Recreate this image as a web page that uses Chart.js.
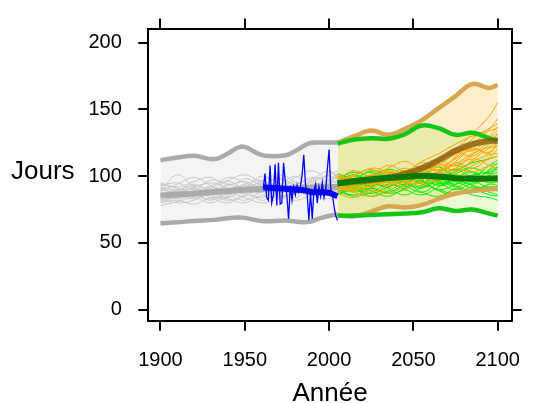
<!DOCTYPE html>
<html>
<head>
<meta charset="utf-8">
<script src="https://cdn.jsdelivr.net/npm/chart.js@4.4.0/dist/chart.umd.min.js"></script>
<style>
  html, body { margin: 0; padding: 0; background: #fff; }
  #wrap { width: 539px; height: 403px; }
</style>
</head>
<body>
<div id="wrap"><canvas id="jours" width="539" height="403"></canvas></div>
<script>
var yearTicks = [1900, 1950, 2000, 2050, 2100];
var dayTicks = [0, 50, 100, 150, 200];

// historical runs, 1900-2005
var histYears = [1900, 1910, 1920, 1930, 1940, 1950, 1960, 1970, 1980, 1990, 2000, 2005];
var histRuns = [
    [92, 90, 94, 89, 93, 96, 91, 94, 90, 97, 100, 98],
    [84, 86, 83, 88, 86, 90, 95, 88, 92, 89, 95, 100],
    [80, 82, 79, 84, 83, 80, 86, 84, 88, 93, 90, 96],
    [88, 101, 92, 87, 94, 90, 88, 97, 94, 91, 98, 102],
    [95, 92, 96, 99, 90, 94, 97, 92, 99, 104, 97, 95],
    [86, 89, 93, 90, 96, 92, 100, 95, 89, 94, 92, 90],
    [90, 87, 85, 92, 88, 98, 93, 90, 96, 88, 103, 99],
    [82, 85, 88, 84, 80, 86, 84, 90, 87, 92, 88, 94],
    [78, 81, 84, 80, 85, 82, 88, 85, 82, 86, 91, 88],
    [93, 95, 90, 97, 94, 88, 92, 99, 93, 96, 101, 104],
    [87, 83, 88, 93, 97, 101, 95, 89, 93, 99, 95, 92],
    [85, 90, 87, 83, 89, 93, 89, 93, 100, 92, 96, 100],
    [91, 88, 92, 95, 91, 87, 94, 88, 91, 95, 89, 93],
    [83, 80, 82, 87, 84, 89, 82, 86, 84, 90, 86, 89],
    [89, 94, 99, 93, 88, 91, 96, 101, 96, 90, 94, 97],
    [81, 84, 86, 82, 87, 84, 80, 83, 88, 85, 83, 87],
    [94, 91, 88, 91, 99, 95, 90, 94, 88, 93, 97, 101],
    [86, 88, 91, 86, 82, 85, 91, 87, 94, 98, 104, 99]
];
var envYears = [1900, 1910, 1920, 1932, 1940, 1946, 1950, 1957, 1962, 1974, 1980, 1988, 1995, 2005];
var histUpper = [112, 114, 115.3, 112.8, 117, 121.5, 122, 117.5, 115.3, 115.7, 118.9, 124.5, 125.2, 125.3];
var histLower = [64.8, 65.5, 66.5, 67.3, 68.5, 69, 68.8, 67, 66.2, 66.8, 66, 65.8, 68.6, 71.6];
var medYears = [1900, 1920, 1940, 1960, 1980, 2005];
var histMedian = [85.5, 87, 89, 90.5, 91, 92];

// observed series 1961-2005 and its smoothed trend
var obsStart = 1961;
var obsDays = [91, 102, 84, 82, 108, 80, 86, 109, 78, 110,
               79, 80, 110, 97, 85, 68, 93, 82, 92, 86,
               93, 88, 92, 101, 116, 94, 87, 67, 88, 68,
               89, 94, 80, 92, 85, 95, 84, 90, 106, 120,
               90, 86, 77, 70, 67];
var obsSmoothYears = [1961, 1965, 1970, 1975, 1980, 1985, 1990, 1995, 2000, 2005];
var obsSmooth = [91.7, 91.3, 91, 90.5, 90, 89.5, 88, 88, 87.5, 85];

// projections 2005-2100
var futYears = [2005, 2015, 2025, 2035, 2045, 2055, 2065, 2075, 2085, 2095, 2100];
var lowRuns = [
    [94, 98, 103, 96, 100, 106, 99, 104, 110, 113, 115],
    [90, 86, 92, 97, 93, 88, 95, 101, 96, 105, 110],
    [97, 101, 96, 92, 99, 104, 107, 100, 97, 104, 107],
    [88, 92, 89, 85, 91, 96, 90, 94, 101, 103, 105],
    [100, 96, 93, 99, 103, 97, 94, 99, 103, 98, 100],
    [92, 89, 95, 100, 95, 91, 98, 93, 89, 94, 93],
    [86, 90, 85, 89, 94, 88, 85, 91, 96, 91, 90],
    [98, 103, 99, 95, 92, 98, 103, 108, 103, 97, 98],
    [91, 94, 98, 103, 99, 94, 90, 87, 92, 88, 86],
    [95, 91, 87, 92, 97, 101, 96, 92, 86, 84, 82],
    [102, 98, 104, 100, 96, 101, 105, 99, 94, 101, 103],
    [89, 85, 88, 94, 90, 86, 92, 97, 93, 90, 89],
    [93, 97, 92, 88, 94, 99, 95, 90, 95, 99, 101],
    [99, 95, 100, 105, 101, 96, 100, 105, 100, 108, 112],
    [87, 91, 95, 91, 86, 92, 97, 94, 99, 95, 96],
    [96, 100, 95, 98, 104, 100, 93, 96, 91, 92, 92],
    [92, 88, 91, 87, 90, 95, 89, 86, 90, 86, 85],
    [97, 93, 97, 101, 96, 92, 97, 102, 106, 102, 107]
];
var highRuns = [
    [96, 100, 97, 103, 99, 105, 113, 120, 132, 145, 155],
    [92, 96, 101, 97, 104, 101, 108, 117, 124, 135, 143],
    [99, 95, 99, 104, 100, 107, 104, 115, 128, 136, 139],
    [94, 90, 95, 100, 106, 102, 110, 121, 119, 130, 137],
    [90, 94, 92, 96, 101, 108, 105, 111, 122, 127, 132],
    [97, 101, 105, 100, 97, 103, 112, 118, 115, 124, 129],
    [88, 92, 88, 93, 98, 95, 103, 109, 117, 122, 126],
    [101, 97, 100, 95, 101, 110, 107, 113, 120, 118, 124],
    [93, 97, 94, 99, 95, 100, 109, 104, 112, 121, 122],
    [95, 91, 97, 102, 98, 104, 101, 110, 106, 114, 120],
    [87, 84, 90, 87, 93, 99, 96, 103, 111, 116, 117],
    [98, 104, 100, 106, 111, 106, 113, 118, 125, 129, 134],
    [91, 88, 85, 91, 96, 93, 99, 106, 103, 108, 109],
    [96, 100, 106, 103, 97, 102, 98, 106, 113, 108, 105],
    [89, 93, 97, 93, 99, 105, 112, 108, 116, 126, 131],
    [94, 98, 94, 97, 104, 100, 104, 114, 121, 117, 128],
    [100, 96, 101, 108, 104, 111, 117, 124, 130, 134, 136],
    [92, 89, 93, 97, 91, 97, 103, 99, 108, 113, 115]
];
var lowUpper = [124.5, 127.5, 128.5, 128, 131.5, 138, 136, 131, 132.5, 128.5, 126.8];
var lowLower = [70.5, 70.5, 71, 71.5, 72, 73, 76, 74, 75, 72, 70.5];
var lowMedian = [94.6, 96.5, 97.8, 98.6, 99.5, 100.3, 99.8, 98.5, 98.2, 98.2, 98.2];
var highUpper = [125, 130, 134.3, 131, 135.5, 142, 151, 160, 169, 166, 168.5];
var highLower = [70.5, 70, 73.5, 77.5, 76.5, 78.5, 83, 87, 89, 90, 90.6];
var highMedian = [94.6, 95.8, 97, 99, 101.8, 106, 112, 119, 124, 126.3, 126.6];

Chart.defaults.font.family = '"Liberation Sans", Arial, Helvetica, sans-serif';
Chart.defaults.font.size = 20;
Chart.defaults.color = '#000';

function pts(xs, ys) {
    return ys.map(function (v, i) { return { x: xs[i], y: v }; });
}

function line(data, color, width, order, extra) {
    var d = {
        data: data,
        borderColor: color,
        borderWidth: width,
        pointRadius: 0,
        tension: 0.4,
        fill: false,
        order: order
    };
    for (var k in extra) d[k] = extra[k];
    return d;
}

var ds = [];

// envelopes: lower first, upper fills down to it
ds.push(line(pts(envYears, histLower), '#aaaaaa', 4.5, 7));
ds.push(line(pts(envYears, histUpper), '#aaaaaa', 4.5, 7, { fill: '-1', backgroundColor: '#f4f4f4' }));
ds.push(line(pts(futYears, highLower), '#d9a650', 4.5, 7));
ds.push(line(pts(futYears, highUpper), '#d9a650', 4.5, 7, { fill: '-1', backgroundColor: 'rgba(255,165,0,0.2)' }));
ds.push(line(pts(futYears, lowLower), '#18c418', 4.5, 6));
ds.push(line(pts(futYears, lowUpper), '#18c418', 4.5, 6, { fill: '-1', backgroundColor: 'rgba(130,220,0,0.17)' }));

histRuns.forEach(function (r) {
    ds.push(line(pts(histYears, r), '#c8c8c8', 1, 9));
});
lowRuns.forEach(function (r) {
    ds.push(line(pts(futYears, r), '#00ee00', 1, 9));
});
highRuns.forEach(function (r) {
    ds.push(line(pts(futYears, r), '#ffa500', 1, 8));
});

ds.push(line(pts(medYears, histMedian), '#aaaaaa', 6, 6));

var obsPts = obsDays.map(function (v, i) { return { x: obsStart + i, y: v }; });
ds.push(line(obsPts, '#0000ff', 1.3, 5, { tension: 0 }));
ds.push(line(pts(obsSmoothYears, obsSmooth), '#0000ff', 6, 4));

ds.push(line(pts(futYears, highMedian), 'rgba(125,80,5,0.72)', 6, 3));
ds.push(line(pts(futYears, lowMedian), '#077a07', 6, 2));

function tickList(list) {
    return function (scale) {
        scale.ticks = list.map(function (v) { return { value: v }; });
    };
}

function axis(pos, list, size, showLabels, lo, hi, pad) {
    return {
        type: 'linear',
        position: pos,
        min: lo,
        max: hi,
        afterBuildTicks: tickList(list),
        afterFit: function (s) {
            if (pos === 'top' || pos === 'bottom') s.height = size; else s.width = size;
        },
        grid: { drawOnChartArea: false, drawTicks: true, tickLength: 10, color: '#000', lineWidth: 2 },
        border: { display: true, color: '#000', width: 2 },
        ticks: {
            display: showLabels,
            color: '#000',
            font: { size: 20 },
            padding: pad,
            maxRotation: 0,
            autoSkip: false,
            callback: function (v) { return String(v); }
        }
    };
}

var axisTitles = {
    id: 'axisTitles',
    afterDraw: function (chart) {
        var ctx = chart.ctx;
        var area = chart.chartArea;
        ctx.save();
        ctx.fillStyle = '#000';
        ctx.font = '26px "Liberation Sans", Arial, sans-serif';
        ctx.textBaseline = 'alphabetic';
        ctx.textAlign = 'left';
        ctx.fillText('Jours', 11, 179);
        ctx.textAlign = 'center';
        ctx.fillText('Année', (area.left + area.right) / 2, 401);
        ctx.restore();
    }
};

new Chart(document.getElementById('jours').getContext('2d'), {
    type: 'line',
    data: { datasets: ds },
    options: {
        responsive: false,
        devicePixelRatio: 1,
        animation: false,
        layout: { padding: 0 },
        plugins: {
            legend: { display: false },
            tooltip: { enabled: false },
            filler: { drawTime: 'beforeDatasetsDraw' }
        },
        scales: {
            x: axis('bottom', yearTicks, 82.3, true, 1892.8, 2108.3, 18),
            xTop: axis('top', yearTicks, 17.3, false, 1892.8, 2108.3, 0),
            y: axis('left', dayTicks, 148.3, true, -8.2, 210.6, 16.5),
            yRight: axis('right', dayTicks, 11.7, false, -8.2, 210.6, 0)
        }
    },
    plugins: [axisTitles]
});
</script>
</body>
</html>
